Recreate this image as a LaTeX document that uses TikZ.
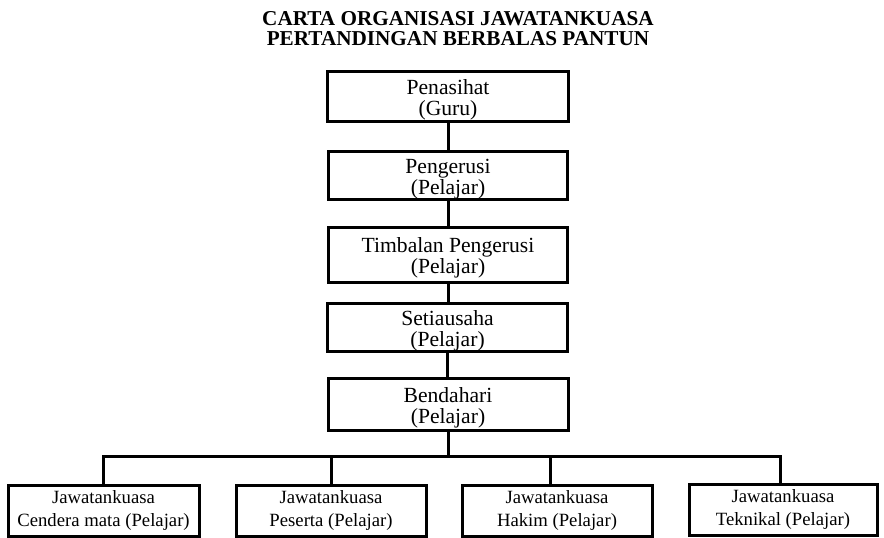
\documentclass[tikz,border=0pt]{standalone}
\usepackage{fontspec}
\setmainfont{Liberation Serif}
\usepackage{tikz}
\usetikzlibrary{calc}

\begin{document}
\begin{tikzpicture}[
  x=0.5pt, y=-0.5pt,
  rolebox/.style={draw, rectangle, line width=1.5pt, align=center, inner sep=0pt,
                  minimum width=120pt, minimum height=25pt,
                  font=\fontsize{10.8}{10.6}\selectfont, text height=21.5pt},
  unitbox/.style={draw, rectangle, line width=1.5pt, align=center, inner sep=0pt,
                  minimum width=95pt, minimum height=25.5pt,
                  font=\fontsize{9.35}{11.5}\selectfont},
  link/.style={line width=1.5pt}
]
\useasboundingbox (0,0) rectangle (884,537);

\node (title) [align=center, font=\fontsize{10.6}{10}\selectfont\bfseries] at (458,28.5)
      {CARTA ORGANISASI JAWATANKUASA \\ PERTANDINGAN BERBALAS PANTUN};

\node (adviser)   [rolebox, minimum width=120.5pt]                     at (448,96)    {Penasihat \\ (Guru)};
\node (chair)     [rolebox, minimum width=119.5pt, minimum height=24pt]   at (448,175)   {Pengerusi \\ (Pelajar)};
\node (vice)      [rolebox, minimum width=119.5pt, minimum height=27.5pt] at (448,254.5) {Timbalan Pengerusi \\ (Pelajar)};
\node (secretary) [rolebox, minimum height=24pt]                       at (447.5,327) {Setiausaha \\ (Pelajar)};
\node (treasurer) [rolebox, minimum height=26pt]                       at (448,404)   {Bendahari \\ (Pelajar)};

\node (souvenir)    [unitbox, minimum width=95.5pt] at (103.5,510.5) {Jawatankuasa \\ Cendera mata (Pelajar)};
\node (participant) [unitbox]                        at (331,510.5)   {Jawatankuasa \\ Peserta (Pelajar)};
\node (judge)       [unitbox]                        at (557,510.5)   {Jawatankuasa \\ Hakim (Pelajar)};
\node (technical)   [unitbox, minimum width=94pt]   at (783,509.5)   {Jawatankuasa \\ Teknikal (Pelajar)};

\draw[link] (adviser.south)   -- (adviser.south |- chair.north);
\draw[link] (chair.south)     -- (chair.south |- vice.north);
\draw[link] (vice.south)      -- (vice.south |- secretary.north);
\draw[link] (secretary.south) -- (secretary.south |- treasurer.north);

% Committee bus
\coordinate (bus) at (0,456);
\draw[link] (treasurer.south) -- (treasurer.south |- bus);
\draw[link] (souvenir.north) |- ([xshift=-1.5pt]bus -| technical.north) -- ([xshift=-1.5pt]technical.north);
\draw[link] (participant.north) -- (participant.north |- bus);
\draw[link] ([xshift=-3.5pt]judge.north) -- ([xshift=-3.5pt]judge.north |- bus);
\end{tikzpicture}
\end{document}
